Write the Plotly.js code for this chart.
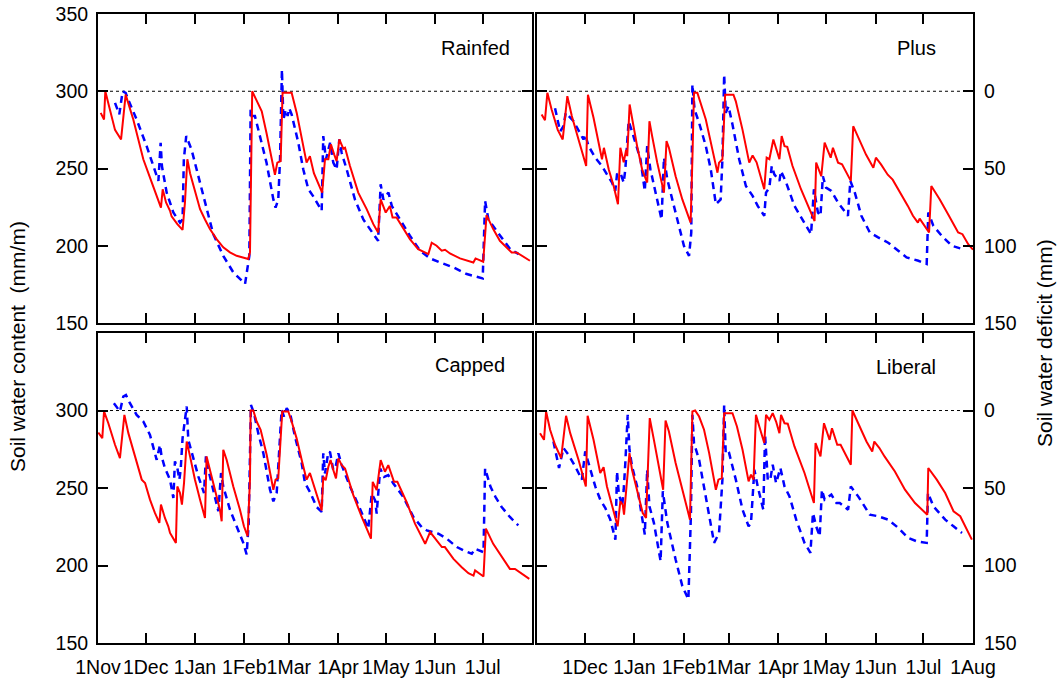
<!DOCTYPE html>
<html>
<head>
<meta charset="utf-8">
<script src="https://cdn.plot.ly/plotly-3.0.1.min.js"></script>
<style>html,body{margin:0;padding:0;background:#fff;}#chart{width:1057px;height:686px;}</style>
</head>
<body>
<div id="chart"></div>
<script>
// ---- Data: [days after 1 Nov, soil water content (mm/m)] ----
const seasonStart = '2009-11-01';
const seasonEnd = '2010-08-01';
const fieldCapacity = 300;

const panelNames = ['Rainfed', 'Plus', 'Capped', 'Liberal'];

const rainfedSolid = [[1.7,286],[3.8,281.7],[4.6,300],[6.5,292.5],[10.7,275],[14.5,268.8],[17.4,297.8],[22.2,281.7],[28.5,256],[33.8,241],[39.6,224.7],[40.7,236.6],[42.8,228],[45.3,222.6],[46.3,219],[49.9,214],[53.2,210.3],[54.7,228],[56.2,256],[57.9,247],[60,238.7],[64.2,223.7],[67.3,217],[70.4,210.8],[74.6,204.3],[78.8,199],[83,195.7],[87.2,193.5],[94.5,191.4],[95.6,195.7],[97,300],[101.9,289],[103,287],[106,273],[111.3,246],[112.8,253.8],[114.9,254.8],[116.1,299],[121.8,299],[125,286],[131.2,253.8],[133.3,258],[135.8,247],[141,234.4],[142.8,256],[144.9,256],[146.5,265.6],[148.6,259],[150.1,254.8],[151.8,268.8],[154.3,262.8],[155.4,263.4],[158.5,251.6],[163.7,234.4],[169,223.7],[173.2,214],[176.2,208.6],[177.8,230],[181,221.5],[183.6,225.8],[185.3,218.3],[187.8,218.3],[196.2,204.3],[201.4,197.8],[207.8,194.6],[209.9,202],[213,200],[216.2,196.8],[218.3,197.4],[221.4,195],[227.7,191.8],[236.1,189.2],[237.5,191.8],[242.3,189.7],[244.4,219.8],[248.6,210.8],[252.8,203.2],[260.2,195.7],[263.3,195.7],[271.7,190.3]];
const rainfedDashed = [[10.7,292.5],[13.4,285],[15.5,300],[17.4,299],[19,294.6],[24.3,281.7],[30.6,264.5],[35.8,249.5],[38,242],[39.4,266.7],[40.2,251.6],[43.2,234.4],[47.4,221.5],[51.6,215],[53.2,217],[54,256],[55.5,271],[58.9,262],[62,249.5],[67.3,228],[72.5,207.5],[78.8,193.5],[85.1,182.8],[92.5,175.3],[95.2,193.5],[96,288],[96.6,284],[98.7,284],[101.9,271],[106,253.8],[110.3,230],[111.7,224.7],[113.4,230],[114.5,256],[115.7,314],[116.6,281.7],[118.2,288],[119.3,284],[120.3,289],[121.8,285],[126,266.7],[129.1,249.5],[132.3,236.6],[135.4,232],[140.7,222.6],[141.7,271],[143.4,256],[146,266.7],[148,253.8],[150.1,249.5],[151.8,268.8],[153.3,260],[156.4,249.5],[161.6,230],[166.9,217],[171,210.8],[176.2,203.2],[177.8,239.8],[179.5,230],[182.7,234.4],[184.8,225.8],[190,217],[196.2,206.5],[202.6,196.8],[208.9,191.8],[215.2,189.2],[223.6,186],[232,181.7],[242,178.9],[243.5,229],[245.6,217],[253,206.5],[259.3,197.8],[264.6,194.6]];

const plusSolid = [[2.9,285],[5,281.3],[6.5,299],[9.2,288],[13,275],[16.1,268.8],[19,296.8],[21.8,284],[26,268.8],[30.8,251.6],[31.9,297.8],[35.4,282.8],[40.7,256],[41.9,263.4],[44.9,249.5],[48,238.7],[50.7,226.9],[52.2,263.4],[54.3,254],[55.8,262],[56.5,258],[58,291.4],[62.7,264.5],[65.8,249.5],[69,240.9],[70.4,280.6],[72.1,271],[75.3,253.8],[79.5,234.4],[81.1,267.7],[82.6,263.4],[86.8,245],[91,230],[96.2,215],[97.3,256],[98.3,299],[100.4,299],[103.6,289],[105.7,281.7],[109.8,262.4],[113,247.3],[114,253.8],[116.1,256],[117.8,297.8],[123,297.8],[124.5,293.5],[128.7,275],[132.9,253.8],[135,258.5],[137.5,254],[142.3,236.6],[143.8,257],[145.5,256],[148,268.8],[149.7,262.4],[151.8,256],[153.2,271],[155,264.5],[156.7,264],[160,251.6],[165.3,236.6],[169.6,225.8],[173.8,216],[174.8,253.8],[178,245],[180.1,266.7],[183.9,257],[185.3,263.4],[188.5,253.8],[191,252.7],[196.5,242],[198,277.4],[201.9,268.8],[206,259],[210.6,250.5],[212.2,257],[215.4,252.7],[219.6,246],[222.7,242.8],[226.9,235.5],[232.2,225.8],[235.4,219.4],[238.5,215],[239.6,217.6],[245.5,208.6],[246.9,238.7],[252.2,230],[257.4,220.4],[261.7,211.8],[263.7,208.6],[266.4,207.5],[270,201],[273,197.5]];
const plusDashed = [[11.3,289],[14.5,274],[16.6,277.4],[18,286],[22.9,280.6],[26,275],[29.1,268.8],[30.2,272],[32.3,264.5],[36.5,257],[40.7,251.6],[43.8,246.2],[47,240.9],[49,235.5],[50.1,246.2],[52.2,247.3],[54.3,240.9],[55.3,249.5],[57.4,280.6],[59.5,274],[62.7,263.4],[64.8,256],[67.5,235.5],[69,264.5],[71,249.5],[74.2,234.4],[78,217],[79.5,257],[81.6,243],[84.7,230],[88.9,212.9],[92,200],[95.2,193.5],[96.6,208.6],[97.3,304.3],[98.7,288],[101.5,279.6],[105.7,264.5],[108.8,249.5],[112,226.9],[115,230],[116.1,256],[117.2,310.8],[118.2,286],[119.9,290.3],[122.4,278.5],[126.6,256],[130.8,238.7],[135,232.3],[138.2,225.8],[142.3,219.4],[143.4,234.4],[145.5,237.6],[147,251.6],[148.6,246.2],[151.8,242],[152.8,248.4],[156,240.9],[161.2,225.8],[165.3,218.3],[168.6,212.9],[171.6,207.5],[173.4,236.6],[175.9,221.5],[177.5,219.4],[179,245],[181,237.6],[184.3,235.5],[188.5,228],[194.7,219.4],[196.2,242],[199,234.4],[203.1,219.4],[208.4,208.6],[213.6,205.4],[219.9,202],[226.2,196.8],[231.4,192.5],[238.8,190.3],[244,188.2],[245,221.5],[248.2,212.9],[253.4,206.5],[259.7,200],[265,198.3]];

const cappedSolid = [[0.2,285.8],[2.7,282.2],[3.8,299.4],[6.5,291.8],[10.7,277.9],[13.8,269.3],[16.6,297.2],[19.1,285.4],[23.3,270.4],[27.5,255.4],[29.6,253.2],[32.7,242.5],[35.8,233.9],[38.6,227.5],[39.6,239.3],[42.1,230.7],[44.2,225.3],[45.3,221],[49,214.6],[49.9,251],[51.6,246.8],[52.8,239.3],[54.1,253.2],[55.8,280],[57.9,270.4],[61,255.4],[64.2,242.5],[67.3,230.7],[68.3,270.4],[70.4,261.8],[73.6,248.9],[76.7,236],[77.8,228.5],[78.8,274.7],[80.9,268.2],[85.1,251],[89.3,236],[91.8,225.3],[94.1,218.9],[95.6,255.4],[96,300],[97.7,300],[99.8,292.9],[102.3,287.6],[106.1,271.5],[110.3,248.9],[111.7,255.4],[113.4,256.4],[115.9,299.4],[119.7,299.4],[121.8,292.9],[124.9,282.2],[128.1,268.2],[131.2,255.4],[133.3,259.7],[136.5,248.6],[140.7,235.6],[141.7,257.2],[143.2,255],[144.9,263.7],[146.3,268],[148,261.6],[149.7,256.2],[151.2,269.1],[153.3,264.8],[155.4,262.6],[160.6,245.4],[165.9,231.3],[171.7,217.3],[172.8,254],[175.3,248.6],[177.8,268],[180.5,260.5],[182.6,264.8],[186.2,254],[188.3,254],[194.1,241],[199.4,227],[202.6,220.5],[205.8,214],[208.9,221.6],[213.1,216.2],[216.3,211.9],[218.2,211.9],[223.6,204.3],[228.8,198.9],[233,195],[236.2,193.5],[237.2,196.8],[242.5,192.9],[244,223.8],[248.6,214],[253.9,205.4],[259.1,197.8],[262.3,197.8],[266.5,194.6],[271.3,191.4]];
const cappedDashed = [[10,304.7],[13.8,299.4],[15.9,309],[17.6,310],[20.1,304.7],[24.3,297.2],[28.5,292.9],[32.7,284.3],[36.9,268.2],[39,277.9],[40,270.4],[42.1,262.9],[45.3,255.4],[47.4,243.6],[48.4,267.2],[49.9,262.9],[51.2,255.4],[52,261.8],[53.2,282.2],[55.8,302.6],[56.8,281.1],[60,268.2],[63.1,257.5],[66.7,246.8],[67.9,270.4],[69.4,261.8],[72.5,248.9],[75.7,235],[77.4,259.7],[78.8,251],[83,236],[87.2,225.3],[91.4,214.6],[93.5,207.1],[94.8,227.5],[96.2,303.6],[98.1,298.3],[100.8,285.4],[104,272.5],[108.2,248.9],[110.3,241.4],[112.4,246.8],[113.4,261.8],[115.5,300.4],[117,296.1],[118.7,301.5],[120.8,298.3],[123.9,283.3],[128.1,266.1],[130.2,253.2],[133.3,247.5],[137.5,237.8],[140.7,234.6],[141.7,272.4],[142.8,259.4],[144.9,273.4],[146,273],[148,261.6],[149.7,264.8],[151.2,272.4],[153.3,264.8],[158.6,250.8],[164.8,236.7],[170,223.8],[172.2,246.4],[174.3,242.1],[175.3,233.5],[177.5,262.6],[180,257.2],[182.6,258.3],[185.8,252.9],[192,244.3],[198.4,231.3],[203.6,224.8],[206.8,222.7],[214.1,220.5],[219.4,217.3],[225.7,211.9],[229.9,209.7],[235.1,207.6],[237.2,210.8],[242.5,208.6],[243.5,262.6],[246.9,250.8],[250,244.3],[253.9,237.8],[259.1,231.3],[264.4,225.9]];

const liberalSolid = [[1.9,285.4],[4.4,281.1],[5.7,299.4],[8.2,287.6],[11.3,277.9],[15.1,269.3],[18.2,296.6],[20.8,285.4],[26,268.2],[30.6,251],[31.7,296.6],[35.4,281.1],[39.6,259.7],[41.7,263.4],[43.8,251],[47,238.2],[48.4,231.8],[50.5,225.3],[52.2,241.4],[53.7,239.3],[54.5,232.8],[55.8,246.8],[57.9,272.5],[59.5,261.8],[63.7,244.6],[66.2,233.9],[68.3,230.7],[70.6,295.1],[73.2,281.1],[75.9,266.1],[79,248.9],[80.5,293.6],[82.6,286.5],[86.8,266.1],[92,244.6],[95.8,229.6],[97.3,299.4],[99,300],[101.5,296.1],[104.6,287.6],[107.8,272.5],[112,248.9],[113.6,255.4],[115.7,256.4],[117.2,298.3],[122.4,298.3],[125.2,289.7],[128.7,274.7],[132.5,254.3],[134,258.6],[135.6,255.4],[137.1,297.2],[139.2,289.7],[142.3,279],[143.4,297.2],[145.5,294],[147.6,298.3],[149.7,292.9],[151.8,285.4],[152.8,297.2],[155,291.8],[157,291.5],[161.2,276.8],[167.5,259.7],[173.4,240.3],[174.4,279],[177.5,270.4],[179.7,291.8],[183.2,281.1],[184.7,288.6],[188,277.9],[190.1,277.9],[196.5,265],[197.5,300],[201.1,291.8],[206.3,280],[209.9,273.6],[211.2,280],[214.4,275.8],[217.6,270.4],[224.1,260.7],[230.4,248.9],[236.7,240.3],[244.4,232.8],[245,262.9],[250.3,255.4],[255.6,246.8],[260.8,235],[265,231.8],[272.3,216.7]];
const liberalDashed = [[10.3,280],[12.4,270.4],[13.8,262.9],[16.6,275.8],[19.7,271.5],[23.9,264],[28.1,255.4],[30.2,273.6],[33.3,261.8],[36.5,251],[39.6,242.5],[42.8,237.1],[45.9,229.6],[49.1,216.7],[50.1,260.7],[51.2,246.8],[53.3,238.2],[54.3,248.9],[55.3,266.1],[56.8,297.2],[57.9,274.7],[59.5,264],[62.7,251],[65.4,231.8],[67.5,220],[69,261.8],[70.4,238.2],[73.2,227.5],[77.4,202.8],[78.8,247.9],[81.6,227.5],[86.8,203.9],[91,186.7],[94.8,178.1],[96.4,233.9],[97.3,297.2],[98.3,279],[101.5,268.2],[104.6,251],[107.8,233.9],[110.9,214.6],[114,221],[116.1,255.4],[117.2,303.6],[118.2,271.5],[120.3,272.5],[124.5,255.4],[128.7,236],[132.5,225.3],[134,227.5],[136.1,261.8],[138.2,251],[141.7,236],[142.8,284.3],[144.5,255.4],[146,255],[147.6,265],[149.7,253.2],[152.4,262.9],[155,251],[158.1,244.6],[162.3,229.6],[167.5,214.6],[171.2,208.2],[172.8,233.9],[174.8,225.3],[177,218.9],[178.4,248.9],[180.1,242.5],[184.3,245.7],[187.5,240.3],[189.6,240.3],[194.8,236],[196.5,251],[201.1,244.6],[208.4,232.8],[213.6,231.8],[219.9,229.6],[226.2,224.3],[232.4,217.8],[237.6,215.7],[244,214.6],[244.8,246.8],[248.2,238.2],[255.6,229.6],[260.8,225.3],[266.1,221]];

const leftTickDates = ['2009-11-01','2009-12-01','2010-01-01','2010-02-01','2010-03-01','2010-04-01','2010-05-01','2010-06-01','2010-07-01'];
const leftTickText = ['1Nov','1Dec','1Jan','1Feb','1Mar','1Apr','1May','1Jun','1Jul'];
const rightTickDates = ['2009-12-01','2010-01-01','2010-02-01','2010-03-01','2010-04-01','2010-05-01','2010-06-01','2010-07-01','2010-08-01'];
const rightTickText = ['1Dec','1Jan','1Feb','1Mar','1Apr','1May','1Jun','1Jul','1Aug'];
const contentTicksTop = [150,200,250,300,350];
const contentTicksBottom = [150,200,250,300];
const deficitTicks = [0,50,100,150];

// ---- helpers ----
const base = Date.UTC(2009, 10, 1);
function pad(n){ return (n<10?'0':'')+n; }
function dayToDate(d){
  const t = new Date(base + d*86400000);
  return t.getUTCFullYear()+'-'+pad(t.getUTCMonth()+1)+'-'+pad(t.getUTCDate())+' '+pad(t.getUTCHours())+':'+pad(t.getUTCMinutes());
}
function trace(series, xa, ya, solid){
  return {
    type:'scatter', mode:'lines', xaxis:xa, yaxis:ya, hoverinfo:'skip',
    x: series.map(p=>dayToDate(p[0])), y: series.map(p=>p[1]),
    line: solid ? {color:'#ff0000', width:2} : {color:'#0000ff', width:2.5, dash:'7px,5px'}
  };
}
// invisible companion trace so the right-hand deficit axis is drawn (deficit = field capacity - content)
function deficitTrace(series, xa, ya){
  return {
    type:'scatter', mode:'lines', xaxis:xa, yaxis:ya, hoverinfo:'skip', opacity:0,
    x: series.map(p=>dayToDate(p[0])), y: series.map(p=>fieldCapacity - p[1]),
    line:{color:'rgba(0,0,0,0)', width:0}
  };
}

const data = [
  trace(rainfedDashed,'x','y',false), trace(rainfedSolid,'x','y',true),
  trace(plusDashed,'x2','y2',false), trace(plusSolid,'x2','y2',true),
  trace(cappedDashed,'x3','y3',false), trace(cappedSolid,'x3','y3',true),
  trace(liberalDashed,'x4','y4',false), trace(liberalSolid,'x4','y4',true),
  deficitTrace(plusSolid,'x2','y5'), deficitTrace(liberalSolid,'x4','y6')
];

const FONT = 'Liberation Sans, Arial, Helvetica, sans-serif';
const tickFont = {family:FONT, size:19.5, color:'#000'};
const axisCommon = {showline:true, linecolor:'#000', linewidth:2, ticks:'inside', ticklen:10, tickwidth:2, tickcolor:'#000', mirror:'ticks', showgrid:false, zeroline:false, tickfont:tickFont, fixedrange:true};

const xL = [0, 0.496], xR = [0.5017, 1];
const yT = [0.5087, 1], yB = [0, 0.4928];
const xRange = [seasonStart, seasonEnd];

function xax(domain, anchor, vals, text, labels){
  return Object.assign({}, axisCommon, {type:'date', domain:domain, anchor:anchor, range:xRange, tickmode:'array', tickvals:vals, ticktext:text, showticklabels:labels, tickangle:0, ticklabelstandoff:6});
}
function yax(domain, anchor, vals, labels){
  return Object.assign({}, axisCommon, {domain:domain, anchor:anchor, range:[150,350], tickmode:'array', tickvals:vals, showticklabels:labels, ticklabelstandoff:4});
}
function defAx(over, anchor){
  return Object.assign({}, axisCommon, {overlaying:over, anchor:anchor, side:'right', range:[150,-50], tickmode:'array', tickvals:deficitTicks, showline:false, mirror:false, ticklabelstandoff:10});
}

const labelFont = {family:FONT, size:20, color:'#000'};
const titleFont = {family:FONT, size:21, color:'#000'};

const layout = {
  width:1057, height:686,
  margin:{l:98, r:84, t:14, b:43},
  paper_bgcolor:'#fff', plot_bgcolor:'rgba(0,0,0,0)',
  showlegend:false,
  font:{family:FONT, color:'#000'},
  xaxis: xax(xL,'y',leftTickDates,leftTickText,false),
  xaxis2: xax(xR,'y2',rightTickDates,rightTickText,false),
  xaxis3: xax(xL,'y3',leftTickDates,leftTickText,true),
  xaxis4: xax(xR,'y4',rightTickDates,rightTickText,true),
  yaxis: yax(yT,'x',contentTicksTop,true),
  yaxis2: yax(yT,'x2',contentTicksTop,false),
  yaxis3: yax(yB,'x3',contentTicksBottom,true),
  yaxis4: yax(yB,'x4',contentTicksBottom,false),
  yaxis5: defAx('y2','x2'),
  yaxis6: defAx('y4','x4'),
  shapes: ['x','x2','x3','x4'].map((xa,i)=>({type:'line', xref:xa+' domain', x0:0, x1:1, yref:['y','y2','y3','y4'][i], y0:fieldCapacity, y1:fieldCapacity, line:{color:'#000', width:1, dash:'dot'}, layer:'below'})),
  annotations: [
    {text:panelNames[0], xref:'paper', yref:'paper', x:0.4731, y:0.946, xanchor:'right', yanchor:'middle', showarrow:false, font:labelFont},
    {text:panelNames[1], xref:'paper', yref:'paper', x:0.96, y:0.946, xanchor:'right', yanchor:'middle', showarrow:false, font:labelFont},
    {text:panelNames[2], xref:'paper', yref:'paper', x:0.4674, y:0.442, xanchor:'right', yanchor:'middle', showarrow:false, font:labelFont},
    {text:panelNames[3], xref:'paper', yref:'paper', x:0.96, y:0.4388, xanchor:'right', yanchor:'middle', showarrow:false, font:labelFont},
    {text:'Soil water content  (mm/m)', xref:'paper', yref:'paper', x:-0.0914, y:0.4706, xanchor:'center', yanchor:'middle', textangle:-90, showarrow:false, font:titleFont},
    {text:'Soil water deficit (mm)', xref:'paper', yref:'paper', x:1.0823, y:0.477, xanchor:'center', yanchor:'middle', textangle:-90, showarrow:false, font:titleFont}
  ]
};

Plotly.newPlot('chart', data, layout, {staticPlot:true, displayModeBar:false});
</script>
</body>
</html>
